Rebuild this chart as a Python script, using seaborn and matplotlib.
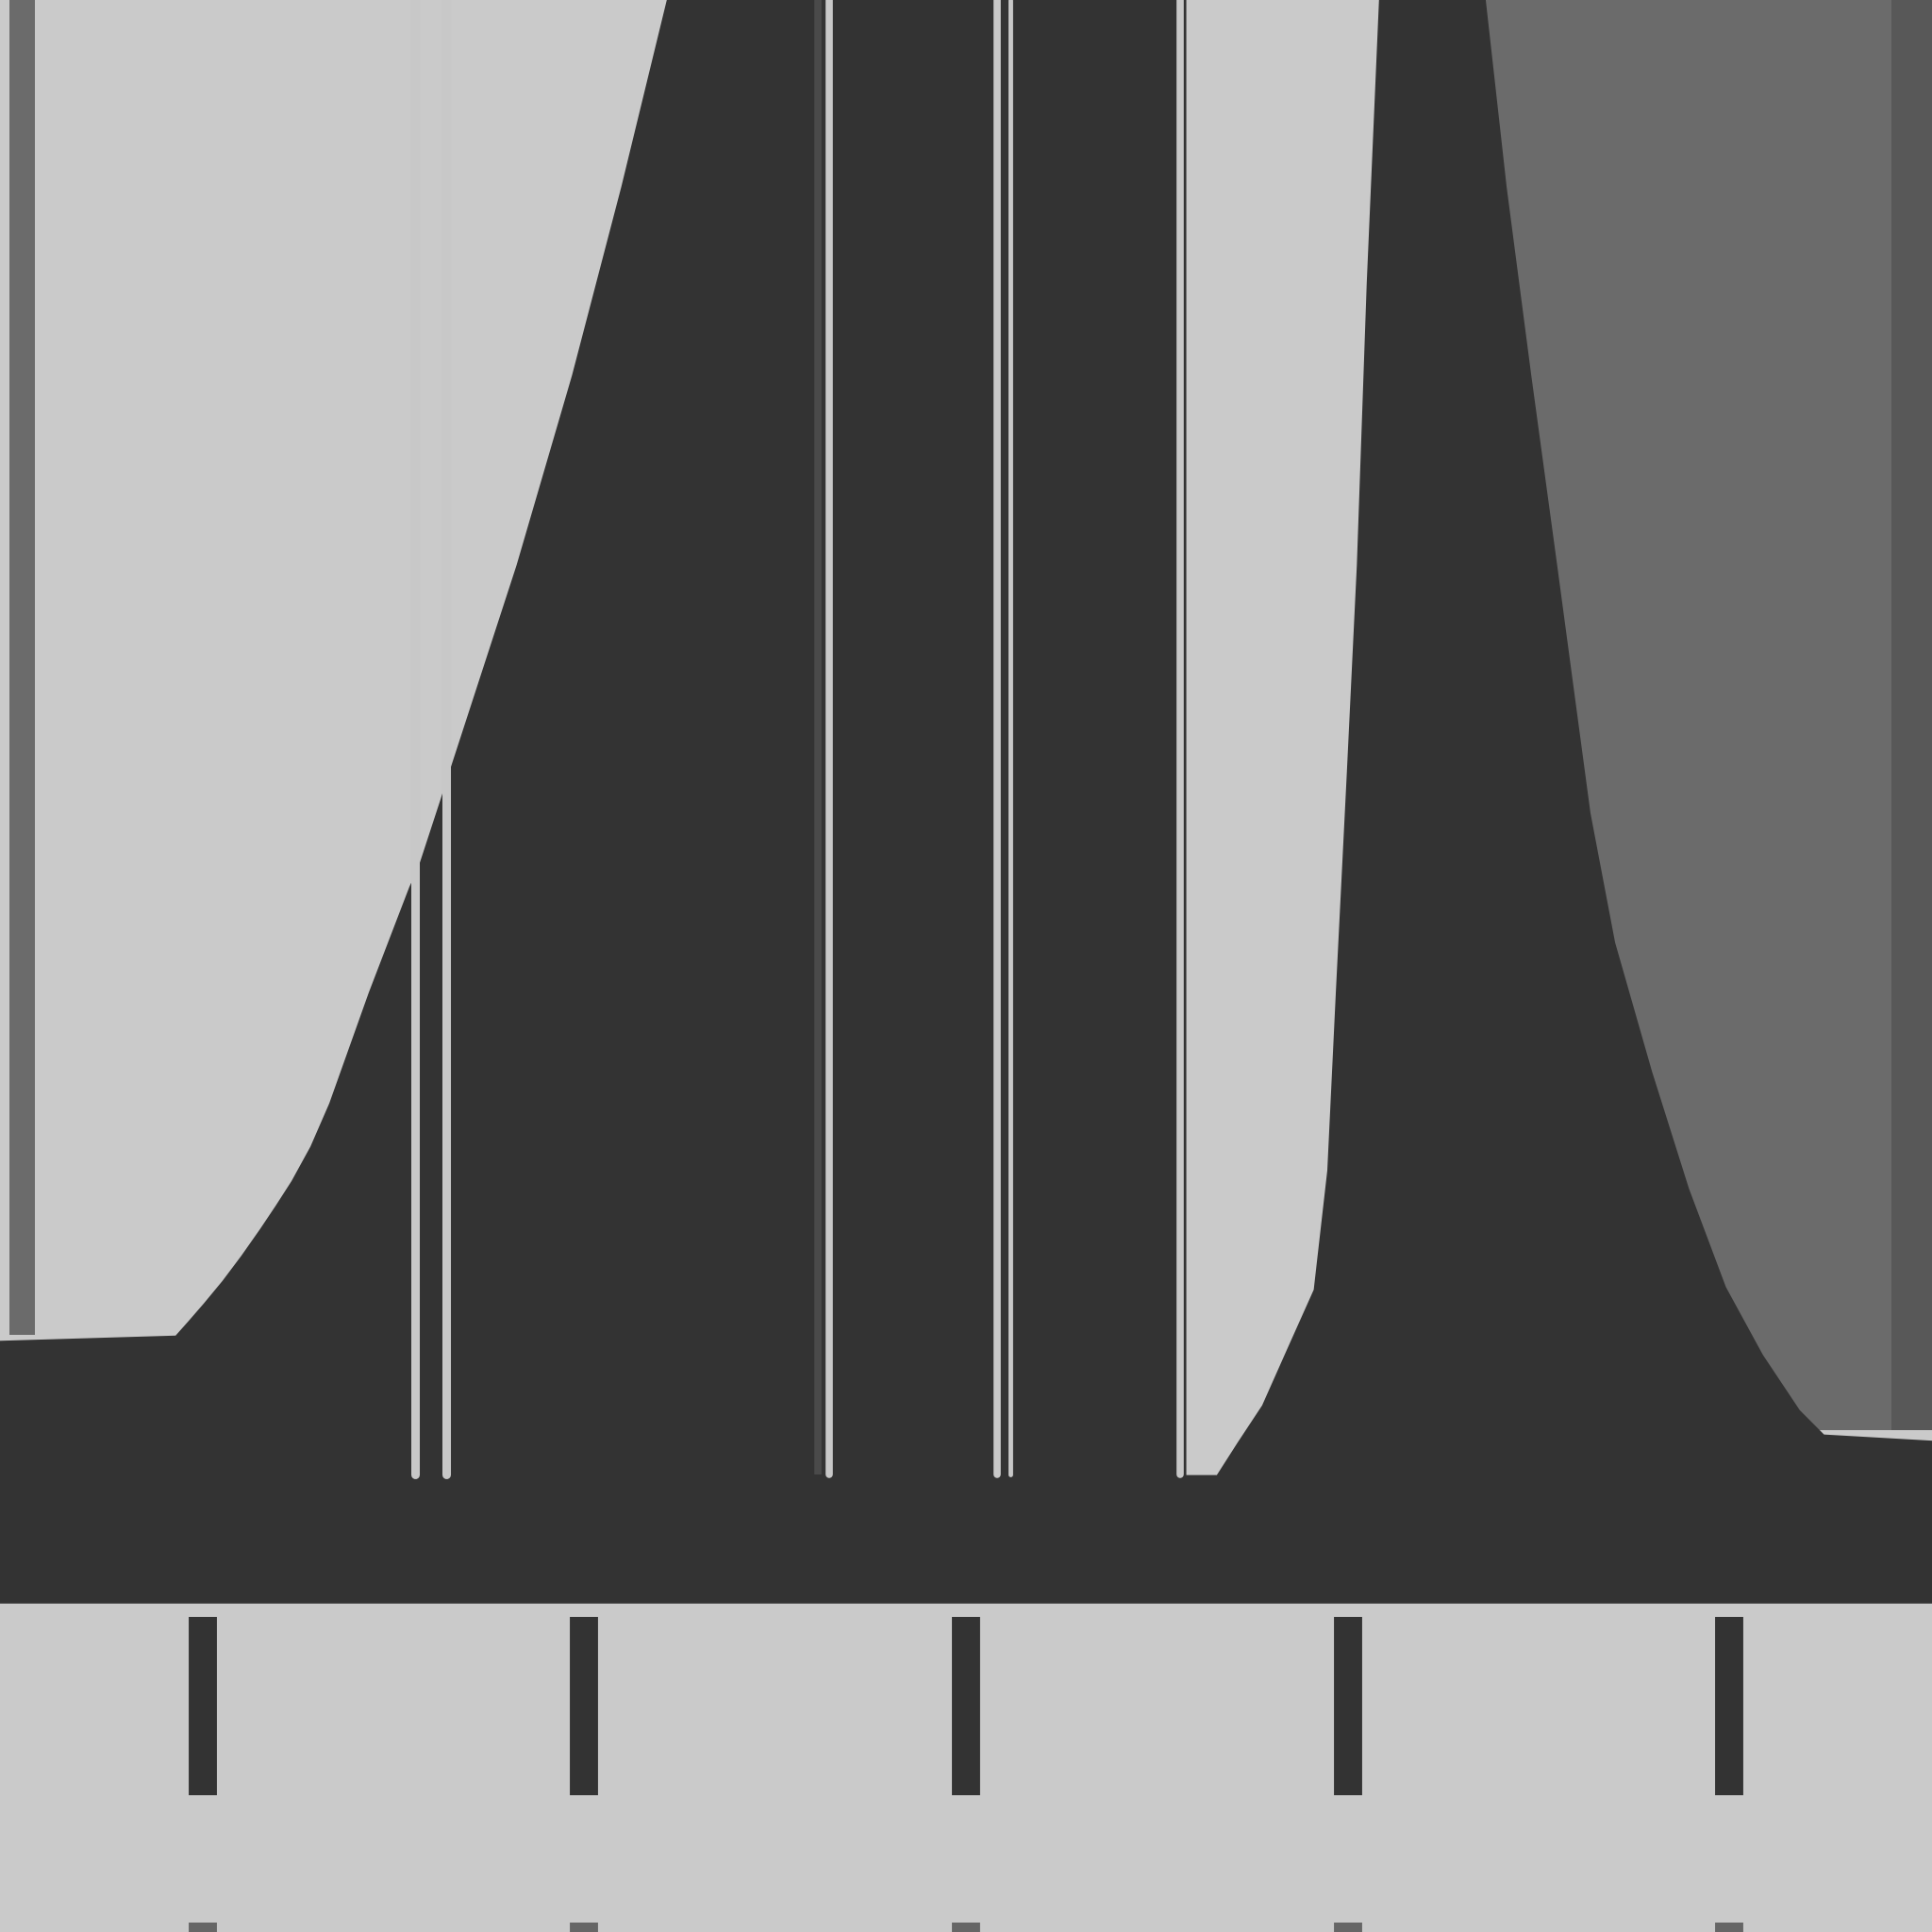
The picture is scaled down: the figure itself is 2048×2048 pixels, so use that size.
import numpy as np
import pandas as pd
import seaborn as sns
import matplotlib
matplotlib.use("Agg")
import matplotlib.pyplot as plt

# Upper edge of the dark mass (x in tick units, y in percent of height)
curve_x = [-0.531, -0.0697, -0.0368, 0.0045, 0.0539, 0.1033, 0.1527, 0.1940, 0.2350,
           0.2847, 0.3341, 0.3958, 0.4375, 0.5440, 0.5666, 0.6247, 0.6473, 0.8249,
           0.9701, 1.0993, 1.2187, 2.5747, 2.5747, 2.6586, 2.7136, 2.7781, 2.8427,
           2.9136, 2.9492, 2.9718, 3.0004, 3.0266, 3.0525, 3.0847, 3.3592, 3.4140,
           3.4786, 3.5464, 3.6336, 3.6981, 3.7950, 3.8918, 3.9887, 4.0856, 4.1824,
           4.2470, 4.531]
curve_y = [30.55, 30.82, 31.55, 32.49, 33.67, 34.97, 36.36, 37.58, 38.84,
           40.63, 42.87, 46.29, 48.60, 54.08, 55.04, 58.55, 59.95, 70.73,
           80.55, 90.31, 100, 100, 23.6, 23.6, 25.30, 27.23, 30.10,
           33.23, 39.41, 48.72, 60.00, 70.73, 85.33, 100, 100, 90.31,
           80.55, 70.73, 57.91, 51.21, 44.52, 38.46, 33.36, 29.85, 26.98,
           25.70, 25.38]
base_level = 17.0

# thin vertical strokes running through the dark mass
light_lines = [0.5569, 0.6376, 1.6417, 2.0807, 2.1162, 2.5617]
light_widths = [6.5, 6.5, 5.5, 5.5, 3.5, 5.5]
shade_lines = [1.6126]

# x ticks
tick_pos = [0, 1, 2, 3, 4]

BG = "#cacaca"
DARK = "#333333"
MID = "#6b6b6b"

sns.set_theme(style="white")
fig = plt.figure(figsize=(20.48, 20.48), dpi=100)
fig.patch.set_facecolor(BG)
ax = fig.add_axes([0, 0, 1, 1])
ax.set_facecolor(BG)

df = pd.DataFrame({"x": curve_x, "y": curve_y})

# grey panels behind the dark mass
ax.fill_between([-0.5052, -0.4406], 30.9, 100, color=MID, lw=0, zorder=1)
ax.fill_between([3.30, 4.4247], 26.0, 100, color=MID, lw=0, zorder=1)
ax.fill_between([4.4247, 4.531], 26.0, 100, color="#585858", lw=0, zorder=1)

# dark mass
ax.fill_between(df["x"], base_level, df["y"], color=DARK, lw=0, zorder=2)
sns.lineplot(data=df, x="x", y="y", sort=False, estimator=None, color=DARK,
             lw=1.5, ax=ax, zorder=2)

# vertical strokes
for xp in shade_lines:
    ax.vlines(xp, 23.7, 100, color="#4a4a4a", lw=5.5, zorder=3)
for xp, w in zip(light_lines, light_widths):
    ax.vlines(xp, 23.7, 100, color="#c8c8c8", lw=w, zorder=3, capstyle="round")

# tick marks and stubs
ax.vlines(tick_pos, 7.1, 16.3, color=DARK, lw=21.5, zorder=3)
ax.vlines(tick_pos, 0, 0.5, color="#666666", lw=21.5, zorder=3)

ax.set_xlim(-0.531, 4.531)
ax.set_ylim(0, 100)
ax.set_xticks([])
ax.set_yticks([])
ax.set_xlabel("")
ax.set_ylabel("")
for s in ax.spines.values():
    s.set_visible(False)

fig.savefig("out.png", dpi=100, facecolor=BG)
